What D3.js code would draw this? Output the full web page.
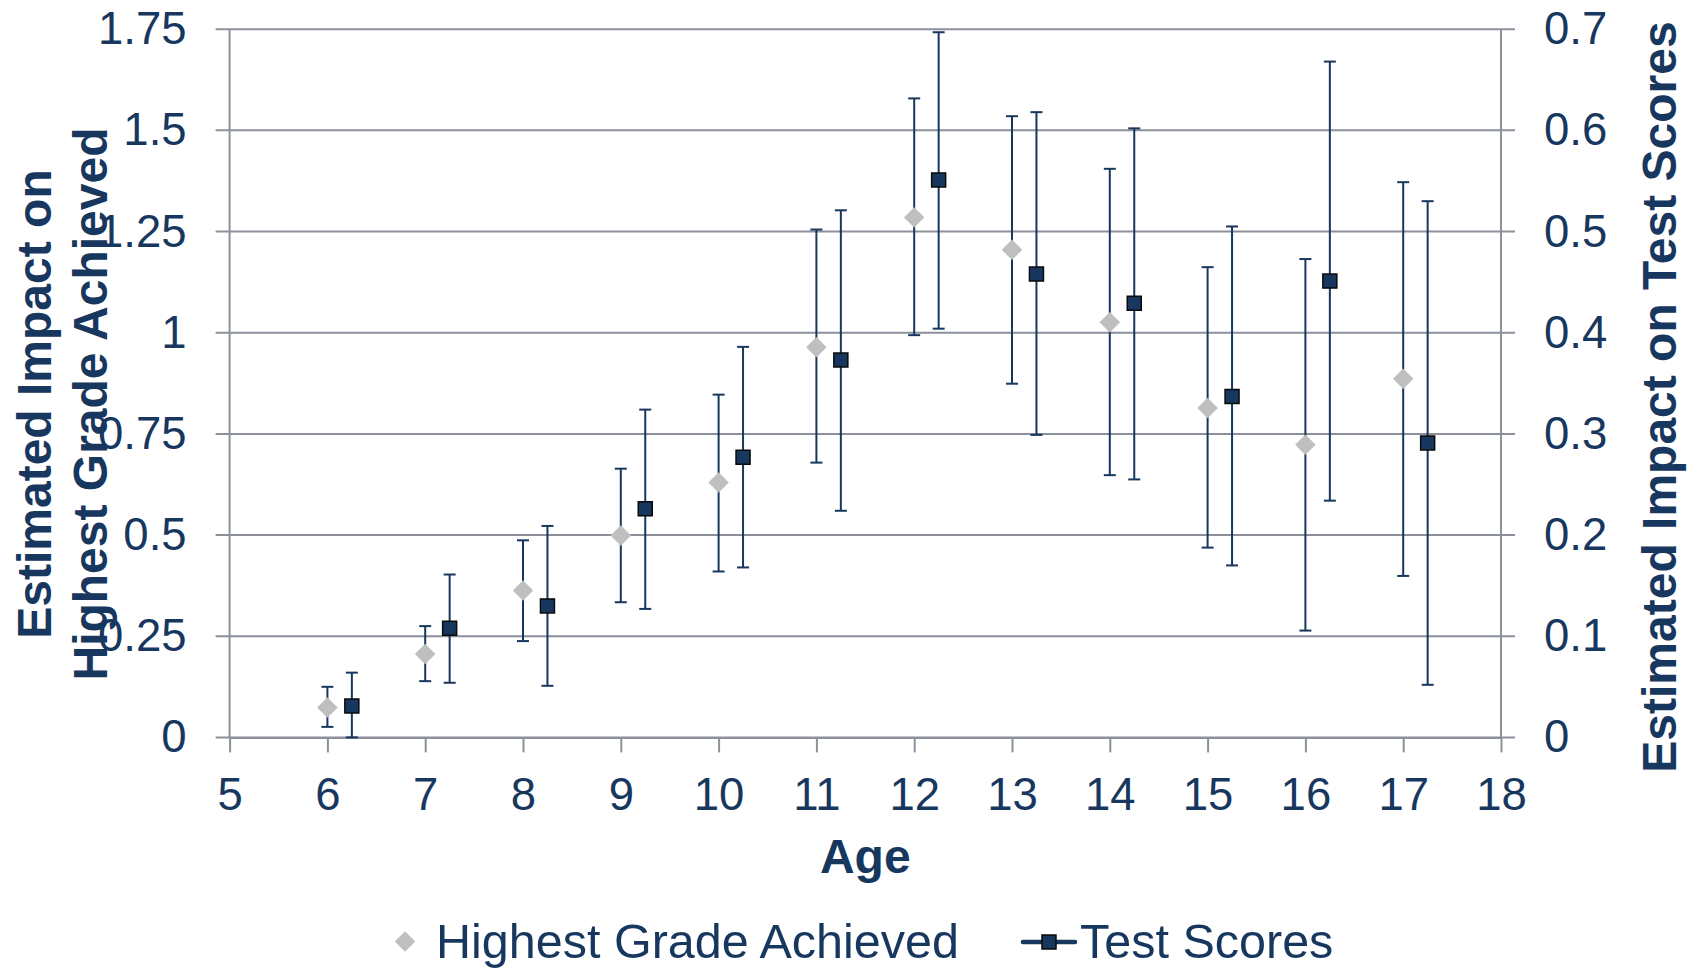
<!DOCTYPE html>
<html>
<head>
<meta charset="utf-8">
<script src="https://cdn.jsdelivr.net/npm/d3@7"></script>
<style>
  html, body { margin: 0; padding: 0; background: #ffffff; }
  svg { display: block; }
  text { font-family: "Liberation Sans", Arial, Helvetica, sans-serif; fill: #17375E; }
</style>
</head>
<body>
<svg id="chart" width="1698" height="968"></svg>
<script>
// Ages for each series (test-score points are set a quarter year to the right)
const gradeAges = [6, 7, 8, 9, 10, 11, 12, 13, 14, 15, 16, 17];
const testAges  = [6.25, 7.25, 8.25, 9.25, 10.25, 11.25, 12.25, 13.25, 14.25, 15.25, 16.25, 17.25];

// Highest grade achieved (left axis): estimate with lower / upper bounds
const gradeValues = [0.074, 0.206, 0.363, 0.499, 0.630, 0.964, 1.285, 1.205, 1.026, 0.814, 0.723, 0.886];
const gradeLow    = [0.026, 0.139, 0.238, 0.334, 0.410, 0.679, 0.994, 0.874, 0.648, 0.469, 0.264, 0.399];
const gradeHigh   = [0.125, 0.275, 0.487, 0.664, 0.847, 1.255, 1.579, 1.535, 1.405, 1.162, 1.182, 1.372];

// Test scores (right axis): estimate with lower / upper bounds
const testValues = [0.031, 0.108, 0.130, 0.226, 0.277, 0.373, 0.551, 0.458, 0.429, 0.337, 0.451, 0.291];
const testLow    = [0.000, 0.054, 0.051, 0.127, 0.168, 0.224, 0.404, 0.299, 0.255, 0.170, 0.234, 0.052];
const testHigh   = [0.064, 0.161, 0.209, 0.324, 0.386, 0.521, 0.697, 0.618, 0.602, 0.505, 0.668, 0.530];

// Tick values and labels
const xTicks      = [5, 6, 7, 8, 9, 10, 11, 12, 13, 14, 15, 16, 17, 18];
const leftTicks   = [0, 0.25, 0.5, 0.75, 1, 1.25, 1.5, 1.75];
const leftLabels  = ["0", "0.25", "0.5", "0.75", "1", "1.25", "1.5", "1.75"];
const rightTicks  = [0, 0.1, 0.2, 0.3, 0.4, 0.5, 0.6, 0.7];
const rightLabels = ["0", "0.1", "0.2", "0.3", "0.4", "0.5", "0.6", "0.7"];

const seriesNames = ["Highest Grade Achieved", "Test Scores"];

const NAVY = "#17375E";
const GREY_MARK = "#BFBFBF";
const GRID = "#8B909B";
const TICK_FONT = 45.5;
const TITLE_FONT = 48;
const LEGEND_FONT = 48.5;

const svg = d3.select("#chart");
const plot = { left: 229.6, right: 1501, top: 29.2, bottom: 737.4 };

const x  = d3.scaleLinear().domain([5, 18]).range([plot.left, plot.right]);
const yL = d3.scaleLinear().domain([0, 1.75]).range([plot.bottom, plot.top]);
const yR = d3.scaleLinear().domain([0, 0.7]).range([plot.bottom, plot.top]);

const TICK = 14;

// Horizontal gridlines, running through both outer tick marks
svg.append("g").attr("class", "grid")
  .selectAll("line").data(leftTicks).join("line")
  .attr("x1", plot.left - TICK).attr("x2", plot.right + TICK)
  .attr("y1", d => yL(d)).attr("y2", d => yL(d))
  .attr("stroke", GRID).attr("stroke-width", 2);

// Left axis
const leftAxis = svg.append("g")
  .attr("transform", `translate(${plot.left},0)`)
  .call(d3.axisLeft(yL).tickValues(leftTicks)
    .tickFormat((d, i) => leftLabels[i]).tickSize(0).tickPadding(43));
leftAxis.select(".domain").remove();
leftAxis.selectAll("text").attr("font-size", TICK_FONT).attr("fill", NAVY)
  .attr("font-family", '"Liberation Sans", Arial, sans-serif');

// Right axis
const rightAxis = svg.append("g")
  .attr("transform", `translate(${plot.right},0)`)
  .call(d3.axisRight(yR).tickValues(rightTicks)
    .tickFormat((d, i) => rightLabels[i]).tickSize(0).tickPadding(43));
rightAxis.select(".domain").remove();
rightAxis.selectAll("text").attr("font-size", TICK_FONT).attr("fill", NAVY)
  .attr("font-family", '"Liberation Sans", Arial, sans-serif');

// Vertical axis lines
[plot.left, plot.right].forEach(px => {
  svg.append("line")
    .attr("x1", px).attr("x2", px)
    .attr("y1", plot.top).attr("y2", plot.bottom)
    .attr("stroke", GRID).attr("stroke-width", 2);
});

// Bottom axis
const bottomAxis = svg.append("g")
  .attr("transform", `translate(0,${plot.bottom})`)
  .call(d3.axisBottom(x).tickValues(xTicks).tickFormat(d3.format("d"))
    .tickSizeInner(TICK + 1).tickSizeOuter(0).tickPadding(25));
bottomAxis.select(".domain").attr("stroke", GRID).attr("stroke-width", 2);
bottomAxis.selectAll(".tick line").attr("stroke", GRID).attr("stroke-width", 2);
bottomAxis.selectAll("text").attr("font-size", TICK_FONT).attr("fill", NAVY)
  .attr("font-family", '"Liberation Sans", Arial, sans-serif');

// Error bars
const CAP = 6;
function errorBars(cls, xs, lo, hi, yScale) {
  const g = svg.append("g").attr("class", cls)
    .attr("stroke", NAVY).attr("stroke-width", 2).attr("fill", "none");
  const rows = xs.map((a, i) => ({ a, lo: lo[i], hi: hi[i] }));
  g.selectAll("line.stem").data(rows).join("line").attr("class", "stem")
    .attr("x1", d => x(d.a)).attr("x2", d => x(d.a))
    .attr("y1", d => yScale(d.lo)).attr("y2", d => yScale(d.hi));
  g.selectAll("line.capHi").data(rows).join("line").attr("class", "capHi")
    .attr("x1", d => x(d.a) - CAP).attr("x2", d => x(d.a) + CAP)
    .attr("y1", d => yScale(d.hi)).attr("y2", d => yScale(d.hi));
  g.selectAll("line.capLo").data(rows).join("line").attr("class", "capLo")
    .attr("x1", d => x(d.a) - CAP).attr("x2", d => x(d.a) + CAP)
    .attr("y1", d => yScale(d.lo)).attr("y2", d => yScale(d.lo));
}
errorBars("grade-err", gradeAges, gradeLow, gradeHigh, yL);
errorBars("test-err", testAges, testLow, testHigh, yR);

// Markers
const diamond = d3.symbol().type(d3.symbolSquare).size(210)();
const square  = d3.symbol().type(d3.symbolSquare).size(196)();

svg.append("g").attr("class", "grade-points")
  .selectAll("path").data(gradeAges.map((a, i) => ({ a, v: gradeValues[i] }))).join("path")
  .attr("d", diamond)
  .attr("transform", d => `translate(${x(d.a)},${yL(d.v)}) rotate(45)`)
  .attr("fill", GREY_MARK);

svg.append("g").attr("class", "test-points")
  .selectAll("path").data(testAges.map((a, i) => ({ a, v: testValues[i] }))).join("path")
  .attr("d", square)
  .attr("transform", d => `translate(${x(d.a)},${yR(d.v)})`)
  .attr("fill", NAVY).attr("stroke", "#0a0a0a").attr("stroke-width", 1.5);

// Axis titles
const leftTitle = svg.append("text")
  .attr("transform", "translate(50.5,404) rotate(-90)")
  .attr("text-anchor", "middle")
  .attr("font-size", TITLE_FONT).attr("font-weight", "bold");
leftTitle.append("tspan").attr("x", 0).attr("dy", 0).text("Estimated Impact on");
leftTitle.append("tspan").attr("x", 0).attr("dy", 56.5).text("Highest Grade Achieved");

svg.append("text")
  .attr("transform", "translate(1676,397) rotate(-90)")
  .attr("text-anchor", "middle")
  .attr("font-size", TITLE_FONT).attr("font-weight", "bold")
  .text("Estimated Impact on Test Scores");

svg.append("text")
  .attr("x", (plot.left + plot.right) / 2).attr("y", 873)
  .attr("text-anchor", "middle")
  .attr("font-size", TITLE_FONT).attr("font-weight", "bold")
  .text("Age");

// Legend
const legend = svg.append("g").attr("class", "legend");
legend.append("path").attr("d", diamond)
  .attr("transform", "translate(405,941.5) rotate(45)")
  .attr("fill", GREY_MARK);
legend.append("text").attr("x", 436).attr("y", 958)
  .attr("font-size", LEGEND_FONT).text(seriesNames[0]);

legend.append("line").attr("x1", 1023).attr("x2", 1075)
  .attr("y1", 942).attr("y2", 942)
  .attr("stroke", NAVY).attr("stroke-width", 4.5).attr("stroke-linecap", "round");
legend.append("path").attr("d", square)
  .attr("transform", "translate(1049,942)")
  .attr("fill", NAVY).attr("stroke", "#0a0a0a").attr("stroke-width", 1.5);
legend.append("text").attr("x", 1080).attr("y", 958)
  .attr("font-size", LEGEND_FONT).text(seriesNames[1]);
</script>
</body>
</html>
